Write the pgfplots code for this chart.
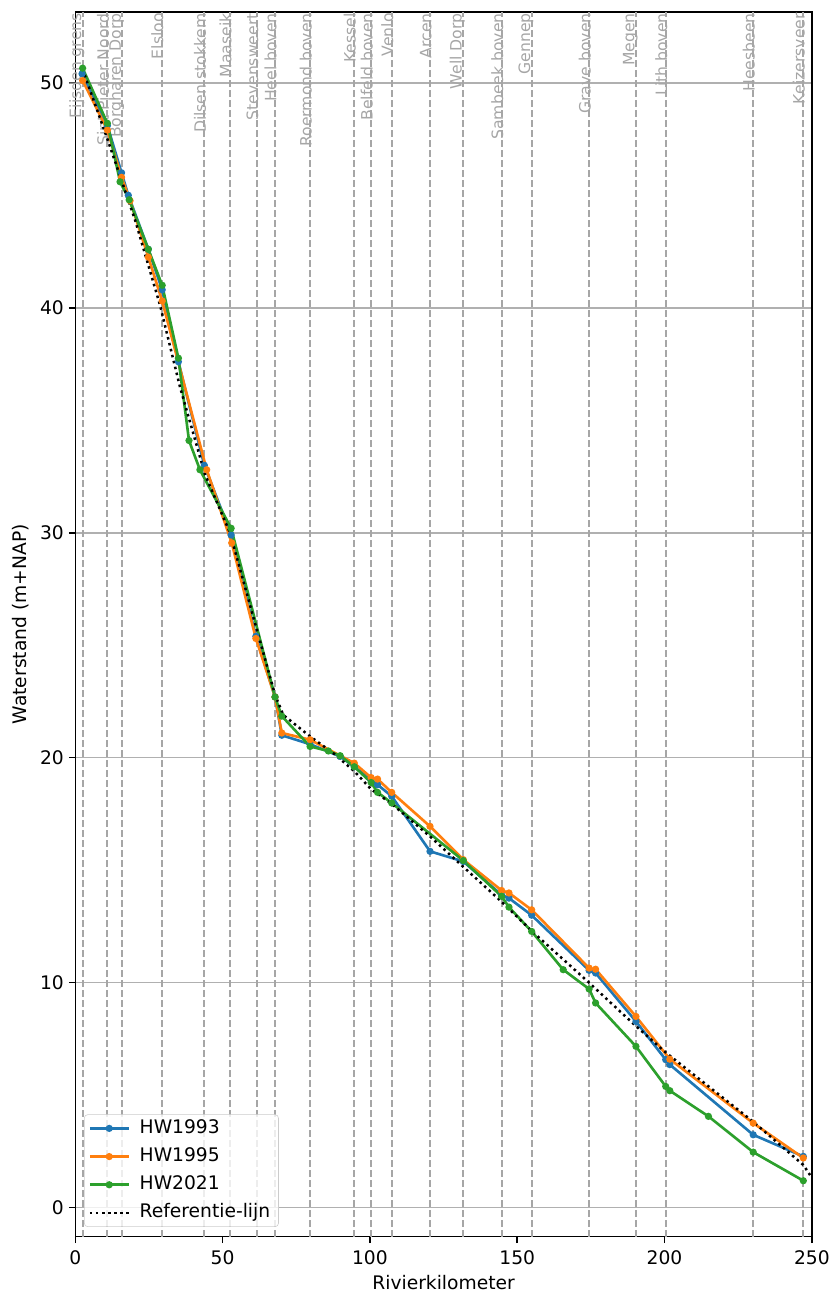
\documentclass[border=0pt]{standalone}
\usepackage{fontspec}
\setmainfont{DejaVu Sans}
\usepackage{pgfplots}
\pgfplotsset{compat=1.18}
\definecolor{cA}{HTML}{1F77B4}
\definecolor{cB}{HTML}{FF7F0E}
\definecolor{cC}{HTML}{2CA02C}
\definecolor{stgray}{HTML}{A6A6A6}
\definecolor{gridgray}{HTML}{B0B0B0}
\definecolor{leggray}{HTML}{CCCCCC}
\tikzset{
  stationline/.style={stgray, line width=1.35bp, dash pattern=on 5bp off 2.2bp},
  stationlabel/.style={rotate=90, anchor=south east, inner xsep=0.8bp, inner ysep=1.6bp, text=stgray,
     font=\fontsize{11.3}{13}\selectfont, yshift=-3bp},
}
\newcommand{\station}[2]{%
  \draw[stationline] (axis cs:#1,-1.29) -- (axis cs:#1,53.15);
  \node[stationlabel] at (axis cs:#1,53.15) {#2};}
\begin{document}
\begin{tikzpicture}
\begin{axis}[
  at={(0,0)}, anchor=south west,
  scale only axis, width=530.3bp, height=881.8bp,
  xmin=0, xmax=250, ymin=-1.29, ymax=53.15,
  xtick={0,50,...,250}, ytick={0,10,...,50},
  scaled ticks=false,
  clip=false,
  xtick pos=bottom, ytick pos=left,
  tick align=outside,
  major tick length=4.7bp,
  tick style={black, line width=1.08bp},
  axis line style={black, line width=1.08bp},
  ymajorgrids,
  major grid style={gridgray, line width=1.08bp},
  /pgf/number format/assume math mode=true,
  ticklabel style={font=\fontsize{13.5}{15}\selectfont},
  xticklabel style={yshift=-2bp},
  xlabel={Rivierkilometer},
  ylabel={Waterstand (m+NAP)},
  label style={font=\fontsize{13.5}{15}\selectfont},
  xlabel style={at={(axis description cs:0.5,0)}, anchor=center, yshift=-33bp},
  ylabel style={at={(axis description cs:0,0.5)}, anchor=center, yshift=39bp},
  legend cell align=left,
  legend style={at={(axis description cs:0,0)}, anchor=south west, xshift=6.3bp, yshift=7bp,
    draw=leggray, rounded corners=2.5bp, fill=white, fill opacity=0.8, text opacity=1,
    font=\fontsize{13.5}{15}\selectfont, row sep=4.5bp, column sep=4bp,
    nodes={text height=9.8bp, text depth=3bp, inner ysep=1.5bp, inner xsep=3bp}},
  legend image code/.code={\draw[mark repeat=2,mark phase=2] plot coordinates {(0bp,0bp) (14bp,0bp) (28bp,0bp)};},
]
\station{2.5}{Eijsden grens}
\station{10.9}{Sint Pieter Noord}
\station{16.0}{Borgharen Dorp}
\station{29.3}{Elsloo}
\station{43.8}{Dilsen stokkem}
\station{52.5}{Maaseik}
\station{61.6}{Stevensweert}
\station{67.8}{Heel boven}
\station{79.7}{Roermond boven}
\station{94.7}{Kessel}
\station{100.4}{Belfeld boven}
\station{107.4}{Venlo}
\station{120.4}{Arcen}
\station{131.7}{Well Dorp}
\station{144.7}{Sambeek boven}
\station{154.9}{Gennep}
\station{174.4}{Grave boven}
\station{190.3}{Megen}
\station{200.4}{Lith boven}
\station{230.1}{Heesbeen}
\station{247.1}{Keizersveer}

\addplot[cA, line width=1.9bp, mark=*, mark size=1.6bp] coordinates {
(2.3,50.4) (10.9,48.1) (15.7,46.0) (18.0,45.0) (24.8,42.6) (29.5,40.8) (35.0,37.6)
(43.8,33.0) (52.9,29.9) (61.3,25.4) (67.8,22.7) (70.1,21.0) (79.7,20.6) (89.9,20.06)
(94.7,19.6) (100.4,19.02) (102.6,18.8) (107.4,18.29) (120.4,15.84) (131.7,15.39)
(144.7,13.9) (147.2,13.76) (154.9,13.0) (174.4,10.55) (176.6,10.43) (190.3,8.28)
(200.4,6.58) (201.8,6.36) (230.1,3.24) (247.1,2.28)};
\addlegendentry{HW1993}
\addplot[cB, line width=1.9bp, mark=*, mark size=1.6bp] coordinates {
(2.5,50.1) (10.9,47.9) (15.7,45.8) (18.6,44.76) (24.8,42.25) (29.5,40.3) (44.6,32.8)
(53.1,29.55) (61.3,25.3) (67.8,22.7) (70.1,21.1) (79.7,20.8) (94.7,19.76) (100.4,19.12)
(102.6,19.05) (107.4,18.46) (120.4,16.95) (131.7,15.47) (144.7,14.1) (147.2,13.99)
(154.9,13.24) (174.4,10.65) (176.6,10.6) (190.3,8.5) (201.8,6.6) (230.1,3.76) (247.1,2.21)};
\addlegendentry{HW1995}
\addplot[cC, line width=1.9bp, mark=*, mark size=1.6bp] coordinates {
(2.5,50.65) (10.9,48.2) (15.2,45.6) (18.3,44.8) (24.8,42.6) (29.5,41.0) (35.0,37.76)
(38.6,34.1) (42.3,32.8) (52.9,30.2) (67.8,22.7) (70.1,21.85) (79.7,20.5) (85.9,20.3)
(89.9,20.09) (94.7,19.6) (100.4,18.9) (102.6,18.46) (107.4,17.99) (131.7,15.43)
(144.7,13.84) (147.2,13.36) (154.9,12.28) (165.6,10.58) (174.4,9.72) (176.6,9.1)
(190.3,7.17) (200.4,5.39) (201.8,5.2) (214.9,4.06) (230.1,2.47) (247.1,1.2)};
\addlegendentry{HW2021}
\addplot[black, line width=1.8bp, dash pattern=on 1.8bp off 2.6bp] coordinates {
(2.5,50.6) (10.9,47.5) (20.3,43.9) (28.8,40.1) (35.5,36.5) (44.0,32.6) (52.5,30.0)
(61.6,25.7) (67.8,22.8) (70.6,21.9) (79.7,20.95) (87.6,20.2) (94.7,19.4) (100.4,18.6)
(107.4,17.95) (120.4,16.5) (131.7,15.15) (144.7,13.6) (154.9,12.3) (174.4,10.0)
(190.3,8.07) (200.4,6.9) (230.1,3.82) (247.1,1.9) (249.4,1.45)};
\addlegendentry{Referentie-lijn}
\end{axis}
\pgfresetboundingbox
\useasboundingbox (-54.2bp,-43.4bp) rectangle (544.1bp,890.4bp);
\end{tikzpicture}
\end{document}
